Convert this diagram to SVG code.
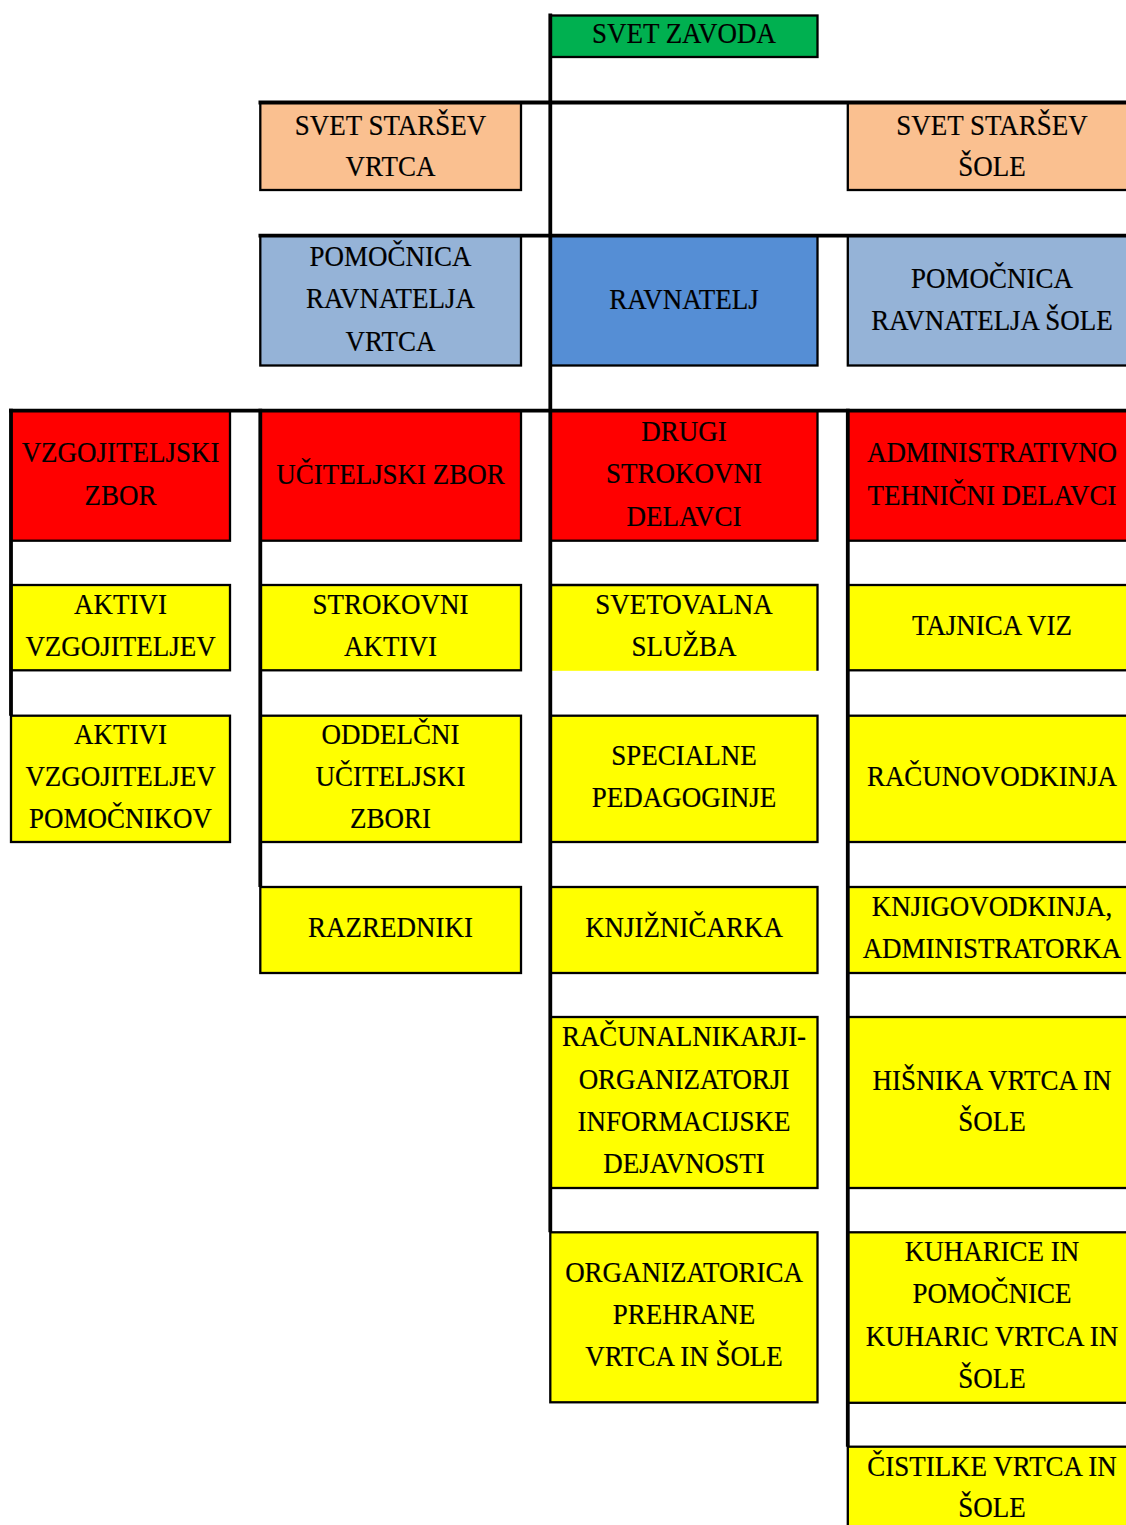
<svg xmlns="http://www.w3.org/2000/svg" width="1126" height="1525" viewBox="0 0 1126 1525">
<style>
.b{stroke:#000;stroke-width:2.3}
.g{fill:#00B050}.p{fill:#FAC090}.lb{fill:#95B3D7}.db{fill:#558ED5}.r{fill:#FF0000}.y{fill:#FFFF00}
.t{font-family:"Liberation Serif","Times New Roman",serif;font-size:29px;text-anchor:middle;fill:#000;stroke:#000;stroke-width:0.2}
.c{stroke:#000;stroke-width:3.8;fill:none}
</style>
<rect width="1126" height="1525" fill="#fff"/>
<g id="svet-zavoda"><rect class="b g" x="550.3" y="15.5" width="267.2" height="41.5"/><text class="t" transform="translate(684 0) scale(0.93 1)"><tspan x="0" y="43">SVET ZAVODA</tspan></text></g>
<g id="svet-starsev-vrtca"><rect class="b p" x="260.3" y="102.5" width="260.7" height="87.5"/><text class="t" transform="translate(390.5 0) scale(0.93 1)"><tspan x="0" y="135">SVET STARŠEV</tspan><tspan x="0" y="176">VRTCA</tspan></text></g>
<g id="svet-starsev-sole"><rect class="b p" x="847.8" y="102.5" width="290" height="87.5"/><text class="t" transform="translate(992 0) scale(0.93 1)"><tspan x="0" y="135">SVET STARŠEV</tspan><tspan x="0" y="176">ŠOLE</tspan></text></g>
<g id="pomocnica-vrtca"><rect class="b lb" x="260.3" y="235.7" width="260.7" height="129.8"/><text class="t" transform="translate(390.5 0) scale(0.93 1)"><tspan x="0" y="266">POMOČNICA</tspan><tspan x="0" y="308.5">RAVNATELJA</tspan><tspan x="0" y="351">VRTCA</tspan></text></g>
<g id="ravnatelj"><rect class="b db" x="550.3" y="235.7" width="267.2" height="129.8"/><text class="t" transform="translate(684 0) scale(0.93 1)"><tspan x="0" y="309">RAVNATELJ</tspan></text></g>
<g id="pomocnica-sole"><rect class="b lb" x="847.8" y="235.7" width="290" height="129.8"/><text class="t" transform="translate(992 0) scale(0.93 1)"><tspan x="0" y="288">POMOČNICA</tspan><tspan x="0" y="330">RAVNATELJA ŠOLE</tspan></text></g>
<g id="vzgojiteljski-zbor"><rect class="b r" x="11" y="410.7" width="219" height="130"/><text class="t" transform="translate(120.5 0) scale(0.93 1)"><tspan x="0" y="462.5">VZGOJITELJSKI</tspan><tspan x="0" y="505">ZBOR</tspan></text></g>
<g id="uciteljski-zbor"><rect class="b r" x="260.3" y="410.7" width="260.7" height="130"/><text class="t" transform="translate(390.5 0) scale(0.93 1)"><tspan x="0" y="484">UČITELJSKI ZBOR</tspan></text></g>
<g id="drugi-strokovni-delavci"><rect class="b r" x="550.3" y="410.7" width="267.2" height="130"/><text class="t" transform="translate(684 0) scale(0.93 1)"><tspan x="0" y="441.5">DRUGI</tspan><tspan x="0" y="483.5">STROKOVNI</tspan><tspan x="0" y="526">DELAVCI</tspan></text></g>
<g id="administrativno-tehnicni"><rect class="b r" x="847.8" y="410.7" width="290" height="130"/><text class="t" transform="translate(992 0) scale(0.93 1)"><tspan x="0" y="462.5">ADMINISTRATIVNO</tspan><tspan x="0" y="505">TEHNIČNI DELAVCI</tspan></text></g>
<g id="aktivi-vzgojiteljev"><rect class="b y" x="11" y="585" width="219" height="85.3"/><text class="t" transform="translate(120.5 0) scale(0.93 1)"><tspan x="0" y="614">AKTIVI</tspan><tspan x="0" y="656">VZGOJITELJEV</tspan></text></g>
<g id="aktivi-vzgojiteljev-pomocnikov"><rect class="b y" x="11" y="715.7" width="219" height="126.3"/><text class="t" transform="translate(120.5 0) scale(0.93 1)"><tspan x="0" y="744">AKTIVI</tspan><tspan x="0" y="786">VZGOJITELJEV</tspan><tspan x="0" y="828">POMOČNIKOV</tspan></text></g>
<g id="strokovni-aktivi"><rect class="b y" x="260.3" y="585" width="260.7" height="85.3"/><text class="t" transform="translate(390.5 0) scale(0.93 1)"><tspan x="0" y="614">STROKOVNI</tspan><tspan x="0" y="656">AKTIVI</tspan></text></g>
<g id="oddelcni-uciteljski-zbori"><rect class="b y" x="260.3" y="715.7" width="260.7" height="126.3"/><text class="t" transform="translate(390.5 0) scale(0.93 1)"><tspan x="0" y="744">ODDELČNI</tspan><tspan x="0" y="786">UČITELJSKI</tspan><tspan x="0" y="828">ZBORI</tspan></text></g>
<g id="razredniki"><rect class="b y" x="260.3" y="887" width="260.7" height="86"/><text class="t" transform="translate(390.5 0) scale(0.93 1)"><tspan x="0" y="937">RAZREDNIKI</tspan></text></g>
<g id="svetovalna-sluzba"><rect class="y" x="550.3" y="585" width="267.2" height="85.8"/><path class="b" fill="none" d="M550.3 585H817.5V670.8"/><text class="t" transform="translate(684 0) scale(0.93 1)"><tspan x="0" y="614">SVETOVALNA</tspan><tspan x="0" y="656">SLUŽBA</tspan></text></g>
<g id="specialne-pedagoginje"><rect class="b y" x="550.3" y="715.7" width="267.2" height="126.3"/><text class="t" transform="translate(684 0) scale(0.93 1)"><tspan x="0" y="765">SPECIALNE</tspan><tspan x="0" y="807">PEDAGOGINJE</tspan></text></g>
<g id="knjiznicarka"><rect class="b y" x="550.3" y="887" width="267.2" height="86"/><text class="t" transform="translate(684 0) scale(0.93 1)"><tspan x="0" y="937">KNJIŽNIČARKA</tspan></text></g>
<g id="racunalnikarji"><rect class="b y" x="550.3" y="1017" width="267.2" height="171"/><text class="t" transform="translate(684 0) scale(0.93 1)"><tspan x="0" y="1046">RAČUNALNIKARJI-</tspan><tspan x="0" y="1089">ORGANIZATORJI</tspan><tspan x="0" y="1131">INFORMACIJSKE</tspan><tspan x="0" y="1173">DEJAVNOSTI</tspan></text></g>
<g id="organizatorica-prehrane"><rect class="b y" x="550.3" y="1232.3" width="267.2" height="170"/><text class="t" transform="translate(684 0) scale(0.93 1)"><tspan x="0" y="1282">ORGANIZATORICA</tspan><tspan x="0" y="1324">PREHRANE</tspan><tspan x="0" y="1366">VRTCA IN ŠOLE</tspan></text></g>
<g id="tajnica-viz"><rect class="b y" x="847.8" y="585" width="290" height="85.3"/><text class="t" transform="translate(992 0) scale(0.93 1)"><tspan x="0" y="635">TAJNICA VIZ</tspan></text></g>
<g id="racunovodkinja"><rect class="b y" x="847.8" y="715.7" width="290" height="126.3"/><text class="t" transform="translate(992 0) scale(0.93 1)"><tspan x="0" y="786">RAČUNOVODKINJA</tspan></text></g>
<g id="knjigovodkinja"><rect class="b y" x="847.8" y="887" width="290" height="86"/><text class="t" transform="translate(992 0) scale(0.93 1)"><tspan x="0" y="916">KNJIGOVODKINJA,</tspan><tspan x="0" y="958">ADMINISTRATORKA</tspan></text></g>
<g id="hisnika"><rect class="b y" x="847.8" y="1017" width="290" height="171"/><text class="t" transform="translate(992 0) scale(0.93 1)"><tspan x="0" y="1090">HIŠNIKA VRTCA IN</tspan><tspan x="0" y="1131.5">ŠOLE</tspan></text></g>
<g id="kuharice"><rect class="b y" x="847.8" y="1232.3" width="290" height="170.5"/><text class="t" transform="translate(992 0) scale(0.93 1)"><tspan x="0" y="1261">KUHARICE IN</tspan><tspan x="0" y="1303">POMOČNICE</tspan><tspan x="0" y="1346">KUHARIC VRTCA IN</tspan><tspan x="0" y="1388">ŠOLE</tspan></text></g>
<g id="cistilke"><rect class="b y" x="847.8" y="1446.7" width="290" height="100"/><text class="t" transform="translate(992 0) scale(0.93 1)"><tspan x="0" y="1476.5">ČISTILKE VRTCA IN</tspan><tspan x="0" y="1517">ŠOLE</tspan></text></g>
<g id="connectors">
<path class="c" d="M258.5 102.5H1126M258.5 235.7H1126M9 410.7H1126"/>
<path class="c" d="M550.3 13.6V1232.3M11 408.8V715.7M260.3 408.8V887M847.8 408.8V1446.7"/>
</g>
</svg>
